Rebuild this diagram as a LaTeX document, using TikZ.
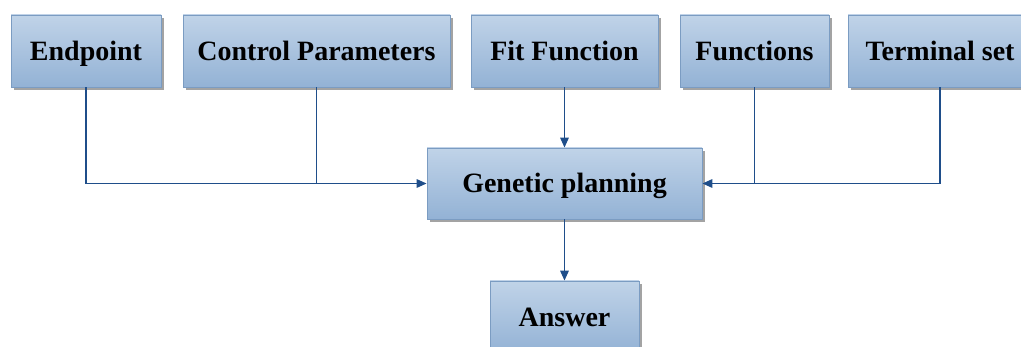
\documentclass[tikz,border=0pt]{standalone}
\usepackage{fontspec}
\setmainfont{Liberation Serif}
\usetikzlibrary{shadows,arrows.meta}

\definecolor{boxtop}{HTML}{C0D3E8}
\definecolor{boxbot}{HTML}{93B2D5}
\definecolor{boxline}{HTML}{7B9CC2}
\definecolor{wire}{HTML}{1F4E8A}

\tikzset{
  planbox/.style={draw=boxline, line width=0.6pt, top color=boxtop, bottom color=boxbot,
    drop shadow={shadow xshift=2pt, shadow yshift=-2pt, fill=black!45, opacity=0.8},
    font=\fontsize{19.9}{23}\selectfont\bfseries, inner sep=0pt,
    text height=13pt, text depth=0pt},
  wireline/.style={draw=wire, line width=1pt},
  wirearrow/.style={wireline, -{Triangle[length=7pt, width=6pt]}}
}

\begin{document}
\begin{tikzpicture}[x=0.025cm, y=-0.025cm]
  \useasboundingbox (0,0) rectangle (1021,347);

  %%%%% boxes %%%%%
  \node[planbox, minimum width=150*0.025cm, minimum height=72*0.025cm] (endpoint) at (86, 51) {Endpoint};
  \node[planbox, minimum width=267*0.025cm, minimum height=72*0.025cm] (ctrlparam) at (316.5, 51) {Control Parameters};
  \node[planbox, minimum width=187*0.025cm, minimum height=72*0.025cm] (fitfunc) at (564.5, 51) {Fit Function};
  \node[planbox, minimum width=149*0.025cm, minimum height=72*0.025cm] (functions) at (754.5, 51) {Functions};
  \node[planbox, minimum width=184*0.025cm, minimum height=72*0.025cm] (terminal) at (940, 51) {Terminal set};

  \node[planbox, minimum width=275*0.025cm, minimum height=71*0.025cm] (genetic) at (564.5, 183.5) {Genetic planning};

  \node[planbox, minimum width=149*0.025cm, minimum height=72*0.025cm] (answer) at (564.5, 317) {Answer};

  %%%%% connectors %%%%%
  \draw[wirearrow] (endpoint.south) |- (genetic.west);
  \draw[wireline] (ctrlparam.south) -- (ctrlparam.south |- genetic.west);
  \draw[wirearrow] (fitfunc.south) -- (genetic.north);
  \draw[wirearrow] (terminal.south) |- (genetic.east);
  \draw[wireline] (functions.south) -- (functions.south |- genetic.east);
  \draw[wirearrow] (genetic.south) -- (answer.north);
\end{tikzpicture}
\end{document}
